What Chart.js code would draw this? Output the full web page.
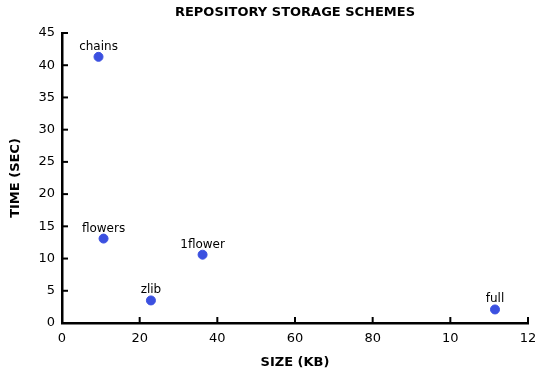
<!DOCTYPE html>
<html>
<head>
<meta charset="utf-8">
<script src="https://cdn.jsdelivr.net/npm/chart.js@4"></script>
<style>
  html, body { margin: 0; padding: 0; background: #fff; }
  #wrap { width: 550px; height: 370px; position: relative; }
</style>
</head>
<body>
<div id="wrap"><canvas id="schemeChart"></canvas></div>
<script>
const schemes = ['chains', 'flowers', '1flower', 'zlib', 'full'];
const sizeKb = [9.4, 10.7, 36.2, 22.9, 111.5];
const timeSec = [41.3, 13.1, 10.6, 3.5, 2.1];

// x tick labels as printed (last two are cut off in the original)
const xTickValues = [0, 20, 40, 60, 80, 100, 120];
const xTickLabels = ['0', '20', '40', '60', '80', '10', '12'];

const chartTitle = 'REPOSITORY STORAGE SCHEMES';
const FONT = '"DejaVu Sans", sans-serif';

// title centred over the plot area rather than the whole canvas
const plotTitle = {
    id: 'plotTitle',
    afterDraw(chart) {
        const c = chart.ctx;
        const area = chart.chartArea;
        c.save();
        c.font = 'bold 13px ' + FONT;
        c.fillStyle = '#000';
        c.textAlign = 'center';
        c.textBaseline = 'middle';
        c.fillText(chartTitle, (area.left + area.right) / 2, 13);
        c.restore();
    }
};

// small ticks that point into the plot, xkcd style
const innerTicks = {
    id: 'innerTicks',
    afterDraw(chart) {
        const c = chart.ctx;
        const xs = chart.scales.x, ys = chart.scales.y;
        c.save();
        c.strokeStyle = '#000';
        c.lineWidth = 2;
        xs.ticks.forEach(t => {
            const px = xs.getPixelForValue(t.value);
            c.beginPath();
            c.moveTo(px, ys.bottom);
            c.lineTo(px, ys.bottom - 6);
            c.stroke();
        });
        ys.ticks.forEach(t => {
            const py = ys.getPixelForValue(t.value);
            c.beginPath();
            c.moveTo(xs.left, py);
            c.lineTo(xs.left + 6, py);
            c.stroke();
        });
        c.restore();
    }
};

// name written above each point
const pointNames = {
    id: 'pointNames',
    afterDatasetsDraw(chart) {
        const c = chart.ctx;
        const meta = chart.getDatasetMeta(0);
        c.save();
        c.font = '12px ' + FONT;
        c.fillStyle = '#000';
        c.textAlign = 'center';
        c.textBaseline = 'alphabetic';
        meta.data.forEach((pt, i) => {
            c.fillText(schemes[i], pt.x, pt.y - 7);
        });
        c.restore();
    }
};

const ctx = document.getElementById('schemeChart').getContext('2d');
new Chart(ctx, {
    type: 'scatter',
    data: {
        datasets: [{
            label: 'schemes',
            data: sizeKb.map((x, i) => ({ x: x, y: timeSec[i] })),
            backgroundColor: '#3b50e0',
            borderColor: '#3b50e0',
            pointRadius: 4.5,
            pointHoverRadius: 4.5
        }]
    },
    options: {
        responsive: true,
        maintainAspectRatio: false,
        animation: false,
        layout: { padding: { left: 0, right: 22, top: 33, bottom: 0 } },
        plugins: {
            legend: { display: false },
            tooltip: { enabled: false },
            title: { display: false }
        },
        scales: {
            x: {
                type: 'linear',
                min: 0,
                max: 120,
                afterFit(scale) { scale.height = 47; },
                afterBuildTicks(scale) {
                    scale.ticks = xTickValues.map(v => ({ value: v }));
                },
                grid: { display: false, drawTicks: false },
                border: { color: '#000', width: 2.5 },
                ticks: {
                    padding: 8,
                    color: '#000',
                    font: { family: FONT, size: 13 },
                    callback: function(value) {
                        const i = xTickValues.indexOf(value);
                        return i >= 0 ? xTickLabels[i] : '';
                    }
                },
                title: {
                    display: true,
                    text: 'SIZE (KB)',
                    color: '#000',
                    font: { family: FONT, size: 13, weight: 'bold' },
                    padding: { top: 2, bottom: 0 }
                }
            },
            y: {
                type: 'linear',
                min: 0,
                max: 45,
                afterFit(scale) { scale.width = 62; },
                grid: { display: false, drawTicks: false },
                border: { color: '#000', width: 2.5 },
                ticks: {
                    stepSize: 5,
                    padding: 7,
                    color: '#000',
                    font: { family: FONT, size: 13 }
                },
                title: {
                    display: true,
                    text: 'TIME (SEC)',
                    color: '#000',
                    font: { family: FONT, size: 13, weight: 'bold' },
                    padding: { top: 8, bottom: 4 }
                }
            }
        }
    },
    plugins: [innerTicks, pointNames, plotTitle]
});
</script>
</body>
</html>
